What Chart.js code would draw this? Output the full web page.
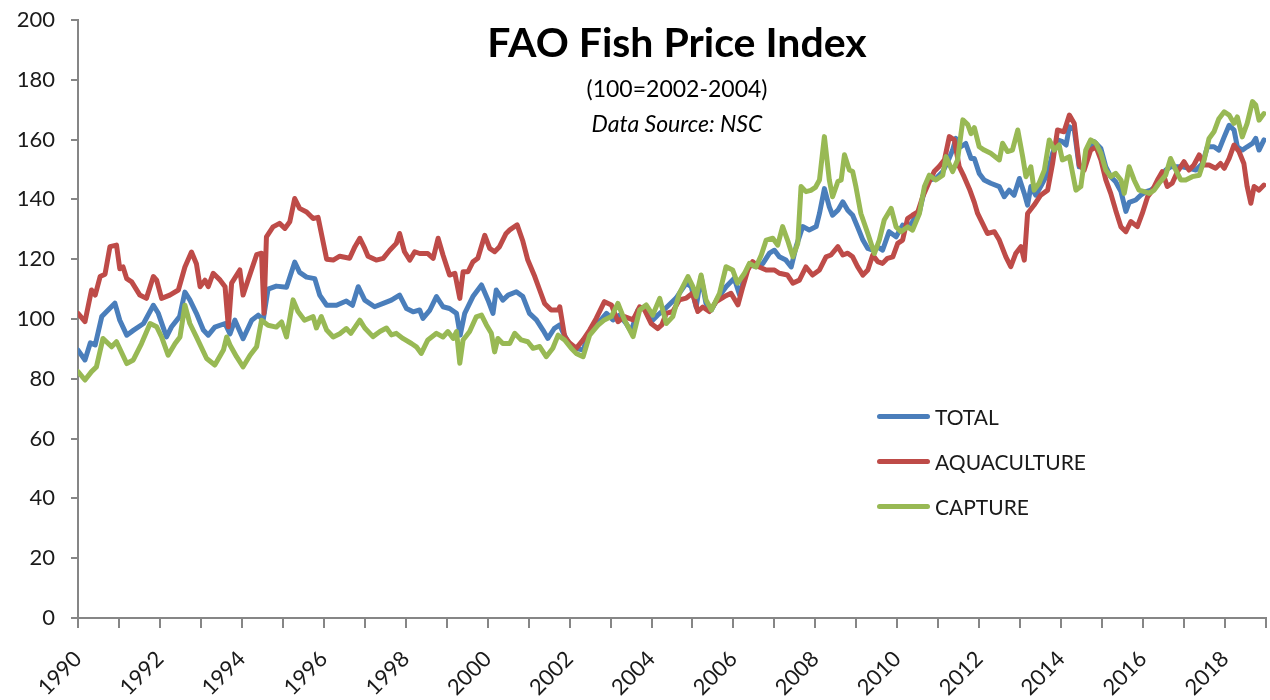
<!DOCTYPE html>
<html>
<head>
<meta charset="utf-8">
<title>FAO Fish Price Index</title>
<script src="https://cdn.jsdelivr.net/npm/chart.js@4.4.1/dist/chart.umd.min.js"></script>
<style>
  body { margin: 0; background: #fff; }
  #wrap { position: relative; width: 1270px; height: 700px; overflow: hidden; font-family: Lato, "Open Sans", sans-serif; color: #000; }
  #wrap canvas { position: absolute; left: 0; top: 0; }
  .head { position: absolute; left: 677px; transform: translateX(-50%); white-space: nowrap; line-height: 1; }
  #title { top: 21px; font-size: 41px; font-weight: bold; }
  #sub { top: 77px; font-size: 23px; }
  #src { top: 112px; font-size: 23px; font-style: italic; }
  .leg { position: absolute; left: 877px; height: 22px; display: flex; align-items: center; font-size: 21px; line-height: 1; color: #1a1a1a; }
  .leg span { display: inline-block; width: 53px; height: 5px; border-radius: 3px; margin-right: 5px; }
</style>
</head>
<body>
<div id="wrap">
  <canvas id="fish" width="1270" height="700"></canvas>
  <div class="head" id="title">FAO Fish Price Index</div>
  <div class="head" id="sub">(100=2002-2004)</div>
  <div class="head" id="src">Data Source: NSC</div>
  <div class="leg" style="top:405px"><span style="background:#4a7ebb"></span>TOTAL</div>
  <div class="leg" style="top:450px"><span style="background:#be4b48"></span>AQUACULTURE</div>
  <div class="leg" style="top:495px"><span style="background:#98b954"></span>CAPTURE</div>
</div>
<script>
// values, [year, index]
var total = [
 [1990.00,89.6],[1990.17,86.3],[1990.30,92],[1990.42,91.3],[1990.58,100.8],[1990.70,102.5],[1990.90,105.3],[1991.02,99.6],
 [1991.19,94.6],[1991.35,96.2],[1991.60,98.5],[1991.84,104.6],[1991.96,101.9],[1992.16,94],[1992.28,97.3],[1992.48,100.8],
 [1992.61,109],[1992.73,106.4],[1992.89,101.9],[1993.06,96.3],[1993.18,94.6],[1993.34,97.3],[1993.59,98.5],[1993.71,95],
 [1993.83,99.6],[1994.03,93.4],[1994.24,99.6],[1994.40,101.3],[1994.52,99.6],[1994.64,110],[1994.84,111],[1995.09,110.6],
 [1995.29,119],[1995.41,115.6],[1995.58,114],[1995.78,113.5],[1995.90,108],[1996.07,104.6],[1996.31,104.6],[1996.55,106],
 [1996.70,104.6],[1996.84,110.8],[1997.00,106.3],[1997.24,104.1],[1997.45,105.2],[1997.65,106.3],[1997.85,108],[1998.02,103.5],
 [1998.18,102.4],[1998.34,103],[1998.42,100.2],[1998.59,103],[1998.75,107.5],[1998.91,104.1],[1999.07,103.5],[1999.24,101.9],
 [1999.33,94.6],[1999.44,101.9],[1999.64,107.5],[1999.85,111.4],[2000.01,106.3],[2000.13,101.9],[2000.21,109.7],[2000.37,106.3],
 [2000.50,108],[2000.70,109.1],[2000.86,107.5],[2001.02,101.9],[2001.19,99.7],[2001.35,96.3],[2001.47,93.5],[2001.63,96.9],
 [2001.76,98],[2001.84,95.5],[2002.00,91.3],[2002.16,90.2],[2002.33,89.6],[2002.49,95.8],[2002.69,98.5],[2002.90,101.9],
 [2003.06,99.7],[2003.22,101.3],[2003.38,98.5],[2003.50,95.8],[2003.67,103],[2003.83,104.1],[2003.99,99.1],[2004.15,101.3],
 [2004.30,103],[2004.60,107],[2004.85,112],[2004.97,110.8],[2005.09,104],[2005.21,114.2],[2005.33,105.2],[2005.46,103],
 [2005.62,107],[2005.82,110.8],[2006.02,113.6],[2006.15,108],[2006.27,114.2],[2006.39,118.1],[2006.55,117.5],[2006.72,118.6],
 [2006.88,122],[2007.00,123],[2007.12,120.8],[2007.28,119.7],[2007.41,117.4],[2007.53,124.2],[2007.69,130.9],[2007.85,129.8],
 [2008.02,130.9],[2008.10,135.3],[2008.22,143.6],[2008.34,137.5],[2008.42,134.7],[2008.55,136.4],[2008.67,139.2],[2008.79,136.4],
 [2008.91,134.7],[2009.03,130.8],[2009.16,126.4],[2009.28,123.6],[2009.40,123],[2009.52,124.1],[2009.64,123],[2009.80,129.2],
 [2009.97,127.5],[2010.13,131.4],[2010.29,130.8],[2010.42,133.6],[2010.54,135.8],[2010.66,143],[2010.78,146.5],[2010.94,147],
 [2011.11,149.3],[2011.23,152.6],[2011.35,156.5],[2011.43,160.4],[2011.55,157.6],[2011.67,158.7],[2011.80,153.7],[2011.88,153.7],
 [2012.00,148.7],[2012.12,146.5],[2012.28,145.4],[2012.49,144.3],[2012.61,140.9],[2012.73,143.1],[2012.85,141.4],[2012.98,147],
 [2013.10,142],[2013.18,138.1],[2013.26,144.3],[2013.38,141.4],[2013.50,144.3],[2013.67,148.7],[2013.79,155.4],[2013.91,159.9],
 [2014.03,159.3],[2014.12,158.2],[2014.20,164.3],[2014.32,163.2],[2014.44,150.9],[2014.56,151.5],[2014.68,155.9],[2014.81,159.3],
 [2014.97,157],[2015.09,150.9],[2015.21,147.6],[2015.33,145.9],[2015.46,142.6],[2015.58,136],[2015.66,139],[2015.82,139.8],
 [2015.94,141.4],[2016.07,142.6],[2016.19,143.1],[2016.31,144.3],[2016.43,146.5],[2016.55,149.8],[2016.67,150.9],[2016.80,150.9],
 [2016.96,150.9],[2017.12,150.4],[2017.29,149.8],[2017.45,152],[2017.57,157.6],[2017.73,157.6],[2017.85,156.5],[2017.98,160.9],
 [2018.10,164.8],[2018.22,163.2],[2018.30,157.6],[2018.42,156.5],[2018.54,157.6],[2018.67,158.7],[2018.75,160.4],[2018.83,156.5],
 [2018.95,159.9]
];
var aquaculture = [
 [1990.00,101.9],[1990.17,99.1],[1990.33,109.7],[1990.42,108],[1990.54,114.2],[1990.66,115],[1990.78,124.2],[1990.94,124.7],
 [1991.02,116.8],[1991.10,117.4],[1991.19,113.5],[1991.31,112.4],[1991.51,108],[1991.67,106.9],[1991.84,114.2],[1991.92,113],
 [1992.04,106.9],[1992.24,108],[1992.45,109.7],[1992.61,117.4],[1992.77,122.4],[1992.89,118.5],[1992.98,110.8],[1993.10,113],
 [1993.18,110.8],[1993.30,115.3],[1993.47,113],[1993.59,110.8],[1993.67,97.4],[1993.75,112],[1993.95,116.4],[1994.03,108],
 [1994.15,113],[1994.36,121.5],[1994.48,122],[1994.54,101.9],[1994.60,127.5],[1994.76,130.8],[1994.92,132],[1995.05,130.3],
 [1995.17,132.5],[1995.29,140.3],[1995.41,137],[1995.58,135.8],[1995.74,133.6],[1995.86,134],[1996.07,120],[1996.23,119.7],
 [1996.39,121],[1996.63,120.3],[1996.76,124.2],[1996.88,127],[1997.00,123.6],[1997.08,121],[1997.28,119.7],[1997.45,120.3],
 [1997.61,123],[1997.77,125.3],[1997.85,128.6],[1997.97,122.5],[1998.10,119.7],[1998.22,122.5],[1998.34,121.9],[1998.54,121.9],
 [1998.67,120.3],[1998.79,127],[1998.91,121.4],[1999.07,114.7],[1999.20,115.3],[1999.32,106.9],[1999.40,115.8],[1999.52,115.8],
 [1999.64,119.1],[1999.76,120.3],[1999.93,128],[2000.05,123.6],[2000.17,122.5],[2000.29,124.2],[2000.45,128.6],[2000.54,129.8],
 [2000.72,131.5],[2000.86,126],[2000.98,119.7],[2001.15,114.2],[2001.27,109.7],[2001.39,105.2],[2001.55,103],[2001.72,103],
 [2001.76,104.1],[2001.88,94.1],[2002.00,92],[2002.16,90.2],[2002.33,93],[2002.49,96.3],[2002.65,100.2],[2002.85,105.8],
 [2003.02,104.7],[2003.18,99.1],[2003.34,100.8],[2003.55,99.7],[2003.71,104.1],[2003.83,103],[2003.99,98.5],[2004.15,96.8],
 [2004.25,98],[2004.36,101.9],[2004.52,102.5],[2004.68,106.4],[2004.85,107],[2005.00,108.6],[2005.13,102.5],[2005.25,104],
 [2005.41,102.5],[2005.58,105.8],[2005.78,107.5],[2005.94,108.6],[2006.11,104.7],[2006.23,110.8],[2006.35,116.4],[2006.47,119.2],
 [2006.63,117.4],[2006.80,116.4],[2007.00,116.4],[2007.12,115.3],[2007.32,114.7],[2007.45,112],[2007.61,113],[2007.77,117.4],
 [2007.93,114.7],[2008.10,116.4],[2008.26,120.8],[2008.38,121.4],[2008.55,124.2],[2008.67,121.4],[2008.79,122],[2008.91,120.8],
 [2009.03,117.5],[2009.16,114.7],[2009.28,116.4],[2009.40,121.4],[2009.52,119.2],[2009.64,118.6],[2009.76,120.3],[2009.89,120.8],
 [2010.01,125.3],[2010.13,126.4],[2010.25,133.6],[2010.37,134.7],[2010.50,135.8],[2010.62,140.9],[2010.78,145.9],[2010.90,149.3],
 [2011.02,151],[2011.15,153.2],[2011.27,161],[2011.39,159.9],[2011.51,151],[2011.63,147.6],[2011.76,143.5],[2011.88,139],
 [2011.96,135.3],[2012.08,132],[2012.20,128.6],[2012.37,129.2],[2012.49,126.4],[2012.65,120.8],[2012.77,117.5],[2012.89,121.9],
 [2013.02,124.2],[2013.10,119.7],[2013.18,135.3],[2013.34,138.1],[2013.50,141.4],[2013.67,143.1],[2013.79,152],[2013.91,163.2],
 [2014.07,162.6],[2014.20,168.2],[2014.32,165.4],[2014.44,151.5],[2014.56,149.8],[2014.72,156.5],[2014.85,157.6],[2014.97,153.2],
 [2015.09,146.5],[2015.21,142],[2015.33,136.4],[2015.46,130.8],[2015.58,129.2],[2015.70,132.6],[2015.86,130.9],[2015.98,135.3],
 [2016.11,140.9],[2016.23,143.1],[2016.35,146.5],[2016.47,149.3],[2016.59,144.3],[2016.71,145.4],[2016.84,149.3],[2017.00,152.6],
 [2017.12,149.8],[2017.24,151.5],[2017.37,154.9],[2017.49,151.5],[2017.61,151.5],[2017.77,150.4],[2017.89,152],[2017.98,150.4],
 [2018.10,153.7],[2018.22,158.2],[2018.34,156],[2018.46,152],[2018.54,144.3],[2018.63,138.7],[2018.71,144.3],[2018.83,143.1],
 [2018.95,144.8]
];
var capture = [
 [1990.00,82.4],[1990.17,79.6],[1990.33,82.4],[1990.45,84],[1990.61,93.5],[1990.82,90.7],[1990.94,92.4],[1991.19,85.1],
 [1991.35,86.3],[1991.55,91.8],[1991.76,98.5],[1991.92,97.4],[1992.04,94],[1992.20,87.9],[1992.37,91.8],[1992.49,94],
 [1992.61,104.6],[1992.73,98.5],[1992.89,94],[1993.14,86.8],[1993.34,84.6],[1993.55,89.6],[1993.63,94],[1993.71,91.3],
 [1993.87,87.4],[1994.03,84],[1994.20,87.9],[1994.36,90.7],[1994.48,99.6],[1994.64,97.9],[1994.84,97.3],[1994.97,99],
 [1995.09,94],[1995.25,106.4],[1995.37,102.5],[1995.53,99.6],[1995.74,100.8],[1995.82,97],[1995.94,100.8],[1996.07,96.3],
 [1996.23,94],[1996.39,95.1],[1996.55,96.8],[1996.66,95.2],[1996.88,99.6],[1997.00,97],[1997.20,94.1],[1997.37,95.8],
 [1997.53,97],[1997.65,94.7],[1997.77,95.2],[1997.93,93.5],[1998.14,91.8],[1998.26,90.7],[1998.38,88.5],[1998.54,93],
 [1998.75,95.2],[1998.91,94],[1999.03,95.8],[1999.16,93.5],[1999.24,95.8],[1999.32,85.2],[1999.40,93],[1999.56,95.8],
 [1999.72,100.7],[1999.85,101.3],[1999.97,98],[2000.09,95.2],[2000.17,89],[2000.25,93.5],[2000.37,91.8],[2000.54,91.8],
 [2000.66,95.2],[2000.82,93],[2000.98,92.4],[2001.11,90.2],[2001.27,90.8],[2001.43,87.4],[2001.59,90.2],[2001.72,94.6],
 [2001.88,93],[2002.04,90.2],[2002.16,88.5],[2002.33,87.4],[2002.49,94.6],[2002.69,97.9],[2002.85,99.7],[2003.02,100.8],
 [2003.18,105.2],[2003.34,99.7],[2003.55,94.1],[2003.71,103],[2003.87,104.7],[2004.03,101.3],[2004.20,106.9],[2004.36,98.5],
 [2004.52,100.8],[2004.68,108.6],[2004.89,114.2],[2005.01,110.8],[2005.09,107.5],[2005.21,114.7],[2005.33,106.4],[2005.46,103],
 [2005.66,108.6],[2005.82,117.5],[2005.98,116.4],[2006.10,112],[2006.27,115.3],[2006.39,118.6],[2006.55,117.4],[2006.68,121.4],
 [2006.80,126.4],[2006.96,127],[2007.08,124.7],[2007.20,130.9],[2007.32,126.4],[2007.45,120.8],[2007.57,125.3],[2007.65,144.3],
 [2007.77,142.6],[2007.89,143],[2008.00,144],[2008.10,146.5],[2008.22,161],[2008.34,146.5],[2008.42,140.9],[2008.55,146],
 [2008.63,146.5],[2008.71,154.9],[2008.83,149.8],[2008.91,149.3],[2008.99,144.2],[2009.11,135.3],[2009.28,128.6],[2009.44,121.9],
 [2009.56,126.4],[2009.68,133.1],[2009.85,137],[2009.97,130.8],[2010.09,129.2],[2010.25,130.8],[2010.37,129.7],[2010.54,135.3],
 [2010.66,144.2],[2010.78,148.1],[2010.94,146.5],[2011.11,148.1],[2011.19,154.3],[2011.35,149.3],[2011.47,153.2],[2011.60,166.6],
 [2011.72,165],[2011.80,162],[2011.88,164],[2012.00,157.6],[2012.12,156.5],[2012.28,155.4],[2012.49,153.2],[2012.57,158.8],
 [2012.69,156],[2012.81,156.5],[2012.94,163.2],[2013.06,154.3],[2013.14,147.6],[2013.26,150.9],[2013.34,143.1],[2013.46,145.4],
 [2013.59,149.8],[2013.71,159.9],[2013.83,156.5],[2013.95,158.2],[2014.03,153.2],[2014.20,154.3],[2014.36,143.1],[2014.48,144.3],
 [2014.60,156.5],[2014.72,159.9],[2014.85,158.8],[2014.97,155.4],[2015.09,149.8],[2015.21,147.6],[2015.33,148.7],[2015.46,146.5],
 [2015.54,142],[2015.66,150.9],[2015.78,146.5],[2015.90,143.1],[2016.03,142.6],[2016.15,142],[2016.27,143.1],[2016.39,145.4],
 [2016.55,148.1],[2016.67,153.7],[2016.80,149.8],[2016.92,146.5],[2017.04,146.5],[2017.20,147.6],[2017.37,148.1],[2017.49,153.2],
 [2017.61,160.4],[2017.73,162.6],[2017.85,167],[2017.98,169.3],[2018.10,168.2],[2018.22,165.4],[2018.30,167.6],[2018.42,160.9],
 [2018.54,165.4],[2018.67,172.7],[2018.75,171.6],[2018.83,166.5],[2018.95,168.7]
];
var yearLabels = [1990,1992,1994,1996,1998,2000,2002,2004,2006,2008,2010,2012,2014,2016,2018];
var yMin = 0, yMax = 200, yStep = 20;

var axisGrey = '#868686';
var tickFont = { family: 'Lato', size: 22 };

function points(arr) {
  return arr.map(function (p) { return { x: p[0], y: p[1] }; });
}

function series(label, arr, color, order) {
  return {
    label: label,
    data: points(arr),
    borderColor: color,
    backgroundColor: color,
    borderWidth: 5,
    borderJoinStyle: 'round',
    borderCapStyle: 'round',
    pointRadius: 0,
    tension: 0,
    order: order
  };
}

var config = {
  type: 'line',
  data: {
    datasets: [
      series('TOTAL', total, '#4a7ebb', 2),
      series('AQUACULTURE', aquaculture, '#be4b48', 1),
      series('CAPTURE', capture, '#98b954', 0)
    ]
  },
  options: {
    responsive: false,
    animation: false,
    layout: { padding: { top: 20, right: 4, left: 0, bottom: 0 } },
    plugins: {
      legend: { display: false },
      tooltip: { enabled: false }
    },
    scales: {
      x: {
        type: 'linear',
        min: 1990,
        max: 2019,
        grid: { drawOnChartArea: false, drawTicks: true, tickLength: 10, color: axisGrey, lineWidth: 2 },
        border: { color: axisGrey, width: 2 },
        ticks: {
          stepSize: 1,
          autoSkip: false,
          minRotation: 45,
          maxRotation: 45,
          padding: 18,
          labelOffset: 0,
          color: '#1a1a1a',
          font: tickFont,
          callback: function (v) { return yearLabels.indexOf(v) >= 0 ? String(v) : ''; }
        },
        afterFit: function (s) {
          s.height = 82;
          s.paddingLeft = 0; s.paddingRight = 0;
        }
      },
      y: {
        min: yMin,
        max: yMax,
        grid: { drawOnChartArea: false, drawTicks: true, tickLength: 7, color: axisGrey, lineWidth: 2 },
        border: { color: axisGrey, width: 2 },
        ticks: { stepSize: yStep, padding: 16, color: '#1a1a1a', font: tickFont },
        afterFit: function (s) {
          s.width = 78;
          s.paddingTop = 0; s.paddingBottom = 0;
        }
      }
    }
  }
};

window.onload = function () {
  var ctx = document.getElementById('fish').getContext('2d');
  window.fishChart = new Chart(ctx, config);
};
</script>
</body>
</html>
